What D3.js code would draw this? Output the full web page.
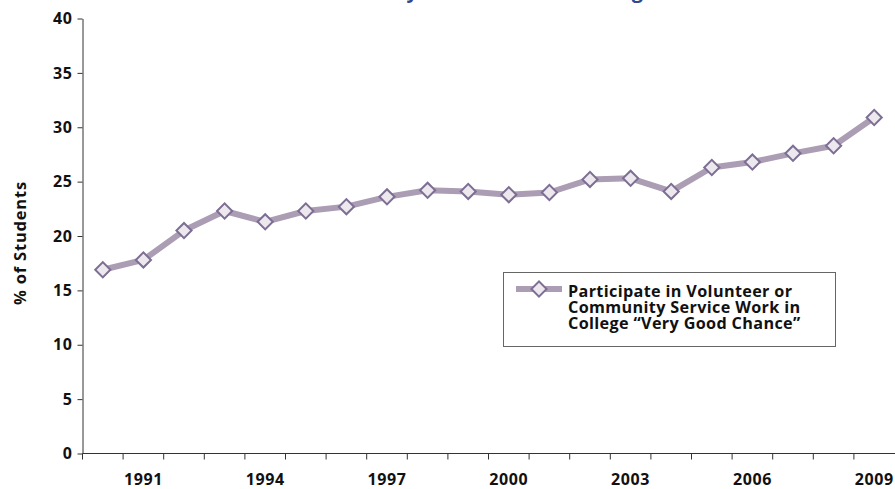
<!DOCTYPE html>
<html lang="en">
<head>
    <meta charset="UTF-8">
    <title>volunteer</title>
    <script src="https://d3js.org/d3.v7.min.js"></script>
    <style>
        body { margin: 0; background: #fff; }
        text { font-family: "Open Sans", sans-serif; font-weight: bold; }
    </style>
</head>
<body>
<script>
    const width = 895
    const height = 489
    const years = d3.range(1990, 2010)
    const values = [16.9, 17.8, 20.5, 22.3, 21.3, 22.3, 22.7, 23.6, 24.2, 24.1,
        23.8, 24.0, 25.2, 25.3, 24.1, 26.3, 26.8, 27.6, 28.3, 30.9]
    const yTicks = [0, 5, 10, 15, 20, 25, 30, 35, 40]
    const xLabels = [1991, 1994, 1997, 2000, 2003, 2006, 2009]
    const legendLines = ['Participate in Volunteer or', 'Community Service Work in', 'College \u201cVery Good Chance\u201d']
    const title = 'Community Service Work in College'

    const padLeft = 82.5, padBottom = 453.5, padTop = 18.5, padRight = 894.5

    var svg = d3.select("body")
        .append("svg")
        .attr("width", width)
        .attr("height", height)

    var xScale = d3.scaleBand()
        .domain(years)
        .range([padLeft, padRight])
    var yScale = d3.scaleLinear()
        .domain([0, 40])
        .range([padBottom, padTop])

    // title (cut off at the top of the picture)
    svg.append("text")
        .text(title)
        .attr("x", 478)
        .attr("y", -2)
        .attr("text-anchor", "middle")
        .attr("font-size", 20)
        .attr("fill", "#34468c")

    // y axis
    var yAxis = d3.axisLeft(yScale)
        .tickValues(yTicks)
        .tickSize(5)
        .tickSizeOuter(0)
        .tickPadding(5)
    var gy = svg.append("g")
        .attr("transform", "translate(" + padLeft + ",0)")
        .call(yAxis)
    gy.selectAll("text").attr("font-size", 16).attr("letter-spacing", 0.6).attr("fill", "#111")
    gy.selectAll("line, path").attr("stroke", "#333")

    // x axis: ticks on the band edges, labels every third year
    var gx = svg.append("g")
        .attr("transform", "translate(0," + padBottom + ")")
    gx.append("line")
        .attr("x1", padLeft).attr("x2", padRight + 1)
        .attr("stroke", "#333")
    gx.selectAll(".tick")
        .data(years)
        .enter()
        .append("line")
        .attr("x1", d => xScale(d))
        .attr("x2", d => xScale(d))
        .attr("y1", 0)
        .attr("y2", 6)
        .attr("stroke", "#333")
    gx.selectAll(".lbl")
        .data(xLabels)
        .enter()
        .append("text")
        .text(d => d)
        .attr("x", d => xScale(d) + xScale.bandwidth() / 2)
        .attr("y", 31)
        .attr("text-anchor", "middle")
        .attr("font-size", 16)
        .attr("letter-spacing", 0.6)
        .attr("fill", "#111")

    svg.append("text")
        .text("% of Students")
        .attr("transform", "translate(26,243) rotate(-90)")
        .attr("text-anchor", "middle")
        .attr("font-size", 16.5)
        .attr("letter-spacing", 0.8)
        .attr("fill", "#111")

    // series
    var line = d3.line()
        .x((d, i) => xScale(years[i]) + xScale.bandwidth() / 2)
        .y(d => yScale(d))
    svg.append("path")
        .attr("d", line(values))
        .attr("fill", "none")
        .attr("stroke", "#ab9db4")
        .attr("stroke-width", 6)
        .attr("stroke-linejoin", "round")

    var diamond = d3.symbol().type(d3.symbolSquare).size(115)
    svg.append("g")
        .selectAll("path")
        .data(values)
        .enter()
        .append("path")
        .attr("d", diamond)
        .attr("transform", (d, i) => "translate(" + (xScale(years[i]) + xScale.bandwidth() / 2) + "," + yScale(d) + ") rotate(45)")
        .attr("fill", "#ece8ee")
        .attr("stroke", "#7d6e93")
        .attr("stroke-width", 2)

    // legend
    var lg = svg.append("g")
    lg.append("rect")
        .attr("x", 503.5).attr("y", 272.5)
        .attr("width", 332).attr("height", 74)
        .attr("fill", "#fff")
        .attr("stroke", "#666")
    lg.append("line")
        .attr("x1", 516).attr("x2", 562)
        .attr("y1", 289).attr("y2", 289)
        .attr("stroke", "#ab9db4")
        .attr("stroke-width", 6)
    lg.append("path")
        .attr("d", diamond)
        .attr("transform", "translate(539,289) rotate(45)")
        .attr("fill", "#ece8ee")
        .attr("stroke", "#7d6e93")
        .attr("stroke-width", 2)
    lg.selectAll(".lt")
        .data(legendLines)
        .enter()
        .append("text")
        .text(d => d)
        .attr("x", 568)
        .attr("y", (d, i) => 296.5 + i * 16.3)
        .attr("font-size", 16.2)
        .attr("letter-spacing", 0.35)
        .attr("fill", "#111")
</script>
</body>
</html>
